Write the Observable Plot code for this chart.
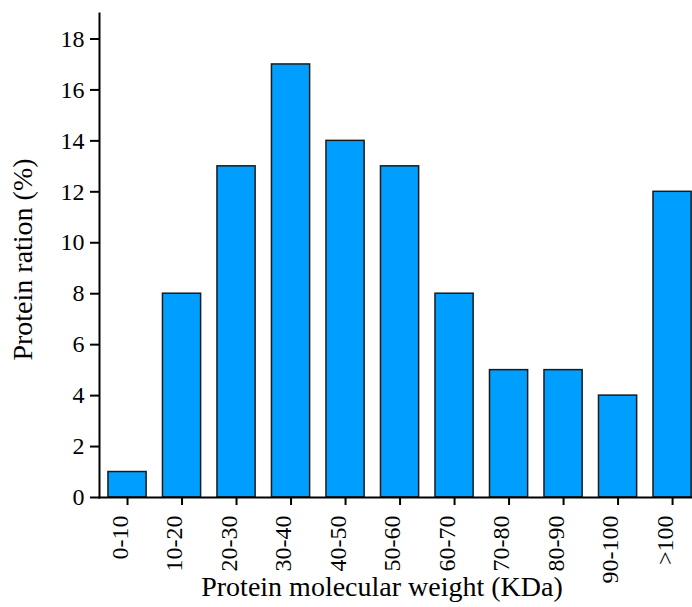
<!DOCTYPE html>
<html>
<head>
<meta charset="utf-8">
<script src="https://cdn.jsdelivr.net/npm/d3@7"></script>
<script src="https://cdn.jsdelivr.net/npm/@observablehq/plot@0.6"></script>
<style>
  html, body { margin: 0; padding: 0; background: #fff; overflow: hidden; }
  #chart svg { overflow: hidden; }
  #chart svg text { font-family: 'Liberation Serif', 'Times New Roman', serif !important; }
</style>
</head>
<body>
<div id="chart"></div>
<script>
const categories = ["0-10", "10-20", "20-30", "30-40", "40-50", "50-60", "60-70", "70-80", "80-90", "90-100", ">100"];
const values = [1, 8, 13, 17, 14, 13, 8, 5, 5, 4, 12];
const yTicks = [0, 2, 4, 6, 8, 10, 12, 14, 16, 18];
const xTitle = "Protein molecular weight (KDa)";
const yTitle = "Protein ration (%)";

const data = categories.map((c, i) => ({cat: c, value: values[i]}));
const font = "'Liberation Serif', 'Times New Roman', serif";

const chart = Plot.plot({
  width: 692,
  height: 607,
  marginLeft: 99,
  marginRight: 0,
  marginTop: 13,
  marginBottom: 110,
  style: {fontFamily: font, fontSize: "24px", color: "#000", background: "#fff"},
  x: {domain: categories, range: [91.6, 707.5], padding: 0.3, align: 0.5, round: false, label: null},
  y: {domain: [0, 19], label: null},
  marks: [
    Plot.barY(data, {x: "cat", y: "value", fill: "#009FFF", stroke: "#1a1a1a", strokeWidth: 1.5}),
    Plot.frame({anchor: "left", stroke: "#000", strokeWidth: 2}),
    Plot.frame({anchor: "bottom", stroke: "#000", strokeWidth: 2}),
    Plot.axisY({ticks: yTicks, tickSize: 9, tickFormat: () => "", label: null, stroke: "#000", strokeWidth: 2}),
    Plot.axisX({tickSize: 8, tickFormat: () => "", label: null, stroke: "#000", strokeWidth: 2}),
    Plot.text(yTicks, {y: d => d, text: d => String(d), frameAnchor: "left", textAnchor: "end", dx: -15, fontSize: 24, fontFamily: font, fill: "#000"}),
    Plot.text(categories, {x: d => d, text: d => d, frameAnchor: "bottom", textAnchor: "end", rotate: -90, dy: 18, fontSize: 24, fontFamily: font, fill: "#000"}),
    Plot.text([yTitle], {frameAnchor: "left", textAnchor: "middle", text: d => d, rotate: -90, dx: -76, dy: 4, fontSize: 28, fontFamily: font, fill: "#000"}),
    Plot.text([xTitle], {frameAnchor: "bottom", textAnchor: "middle", text: d => d, dx: -14, dy: 98, fontSize: 28, fontFamily: font, fill: "#000"})
  ]
});
document.getElementById("chart").appendChild(chart);
</script>
</body>
</html>
